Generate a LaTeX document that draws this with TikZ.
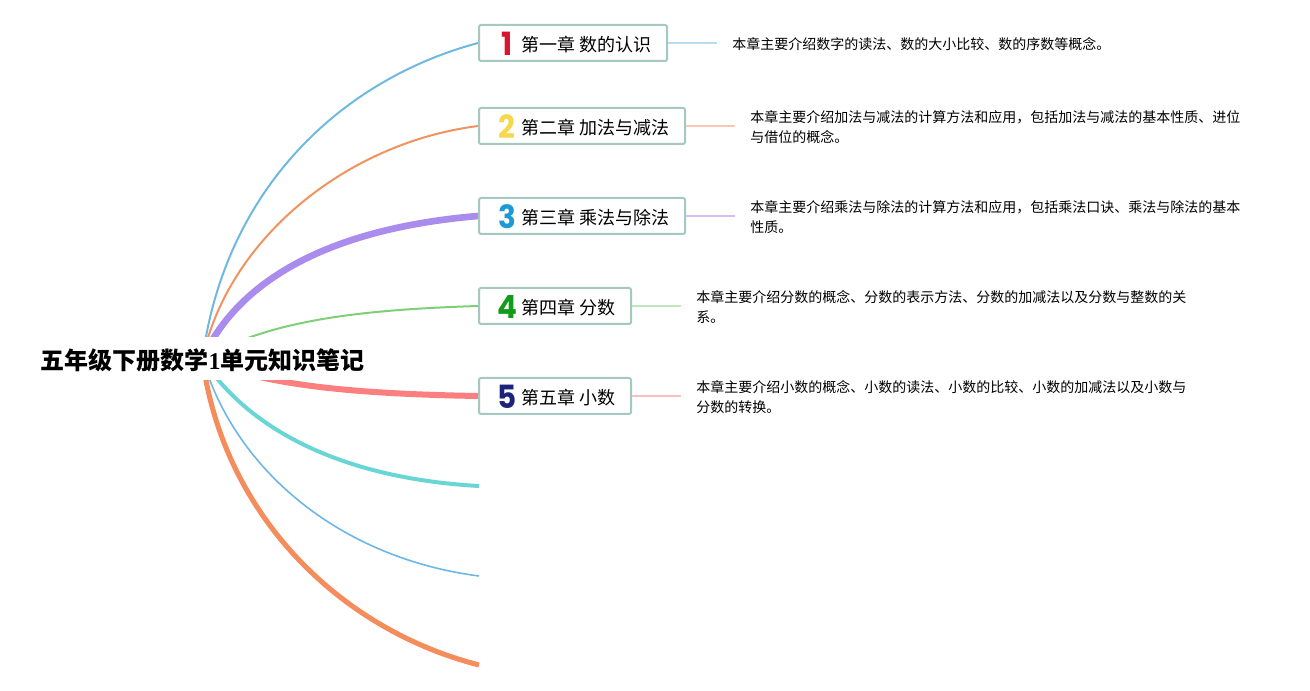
\documentclass[tikz,border=0pt]{standalone}
\usepackage{fontspec}
\usepackage{xcolor}
\setmainfont{Noto Sans CJK SC}
\newfontfamily\digitfont{Poppins}
\newfontfamily\onefont{Liberation Serif}
\usetikzlibrary{backgrounds}
\definecolor{boxline}{HTML}{A5C8C0}
\definecolor{oneblue}{HTML}{6FB8DF}
\definecolor{twoorange}{HTML}{F0935E}
\definecolor{threepurple}{HTML}{A98CEB}
\definecolor{fourgreen}{HTML}{7FCF78}
\definecolor{fivepink}{HTML}{FB7F7F}
\definecolor{sixcyan}{HTML}{6AD5D5}
\definecolor{sevenblue}{HTML}{6DB7E3}
\definecolor{eightorange}{HTML}{F58C5C}
\definecolor{digitone}{HTML}{D9142F}
\definecolor{digittwo}{HTML}{F7D84B}
\definecolor{digitthree}{HTML}{1C9AD6}
\definecolor{digitfour}{HTML}{129A1B}
\definecolor{digitfive}{HTML}{1B2478}
\newcommand{\chapdigit}[2]{\makebox[18.5pt][c]{\raisebox{-3.5pt}{\scalebox{0.92}[1]{\fontsize{24}{24}\digitfont\bfseries\color{#1}#2}}}\hspace{1pt}}

\begin{document}
\begin{tikzpicture}[x=0.75pt,y=-0.75pt,
		chapbox/.style={draw=boxline,line width=1.5pt,fill=white,rounded corners=1.5pt,anchor=west,inner xsep=12pt,inner ysep=0pt,text height=19.7pt,text depth=7.3pt,font=\fontsize{13.5}{16}\selectfont},
		notetext/.style={anchor=west,align=left,inner sep=0pt,font=\fontsize{10.5}{15}\selectfont},
		sideline/.style={line width=1.1pt,shorten >=11.25pt}]
		\useasboundingbox (0,0) rectangle (1310,691);
		\node[fill=white,inner sep=0pt,minimum width=243pt,text height=24.7pt,text depth=7.5pt,font=\fontsize{18}{20}\selectfont\bfseries] (root) at (202.5,358.5) {五年级下册数学{\onefont 1}单元知识笔记};
		\node[chapbox] (chapone) at (478,43) {\chapdigit{digitone}{1}第一章 数的认识};
		\node[chapbox] (chaptwo) at (478,126) {\chapdigit{digittwo}{2}第二章 加法与减法};
		\node[chapbox] (chapthree) at (478,216) {\chapdigit{digitthree}{3}第三章 乘法与除法};
		\node[chapbox] (chapfour) at (478,306) {\chapdigit{digitfour}{4}第四章 分数};
		\node[chapbox] (chapfive) at (478,396) {\chapdigit{digitfive}{5}第五章 小数};
		\coordinate (endsix) at (479,486);
		\coordinate (endseven) at (479,576);
		\coordinate (endeight) at (479,665);
		\node[notetext] (noteone) at (732,44) {本章主要介绍数字的读法、数的大小比较、数的序数等概念。};
		\node[notetext] (notetwo) at (750,127) {本章主要介绍加法与减法的计算方法和应用，包括加法与减法的基本性质、进位\\与借位的概念。};
		\node[notetext] (notethree) at (750,217) {本章主要介绍乘法与除法的计算方法和应用，包括乘法口诀、乘法与除法的基本\\性质。};
		\node[notetext] (notefour) at (696,307) {本章主要介绍分数的概念、分数的表示方法、分数的加减法以及分数与整数的关\\系。};
		\node[notetext] (notefive) at (696,397) {本章主要介绍小数的概念、小数的读法、小数的比较、小数的加减法以及小数与\\分数的转换。};
		\begin{scope}[on background layer]
			\draw[oneblue,line width=1.5pt] (root.center) .. controls (225,190) and (340,80) .. (chapone.west);
			\draw[twoorange,line width=1.5pt] (root.center) .. controls (228,240) and (345,143) .. (chaptwo.west);
			\draw[threepurple,line width=5pt] (root.center) .. controls (240,277) and (335,228) .. (chapthree.west);
			\draw[fourgreen,line width=1.5pt] (root.center) .. controls (268,322) and (350,310) .. (chapfour.west);
			\draw[fivepink,line width=4.5pt] (root.center) .. controls (262,386) and (360,394) .. (chapfive.west);
			\draw[sixcyan,line width=3pt] (root.center) .. controls (245,425) and (335,478) .. (endsix);
			\draw[sevenblue,line width=1.2pt] (root.center) .. controls (235,470) and (340,558) .. (endseven);
			\draw[eightorange,line width=3.8pt] (root.center) .. controls (222,510) and (335,628) .. (endeight);
		\end{scope}
		\draw[oneblue!50,sideline] (chapone.east) -- (chapone.east -| noteone.west);
		\draw[twoorange!50,sideline] (chaptwo.east) -- (chaptwo.east -| notetwo.west);
		\draw[threepurple!55,sideline] (chapthree.east) -- (chapthree.east -| notethree.west);
		\draw[fourgreen!50,sideline] (chapfour.east) -- (chapfour.east -| notefour.west);
		\draw[fivepink!50,sideline] (chapfive.east) -- (chapfive.east -| notefive.west);
\end{tikzpicture}
\end{document}
